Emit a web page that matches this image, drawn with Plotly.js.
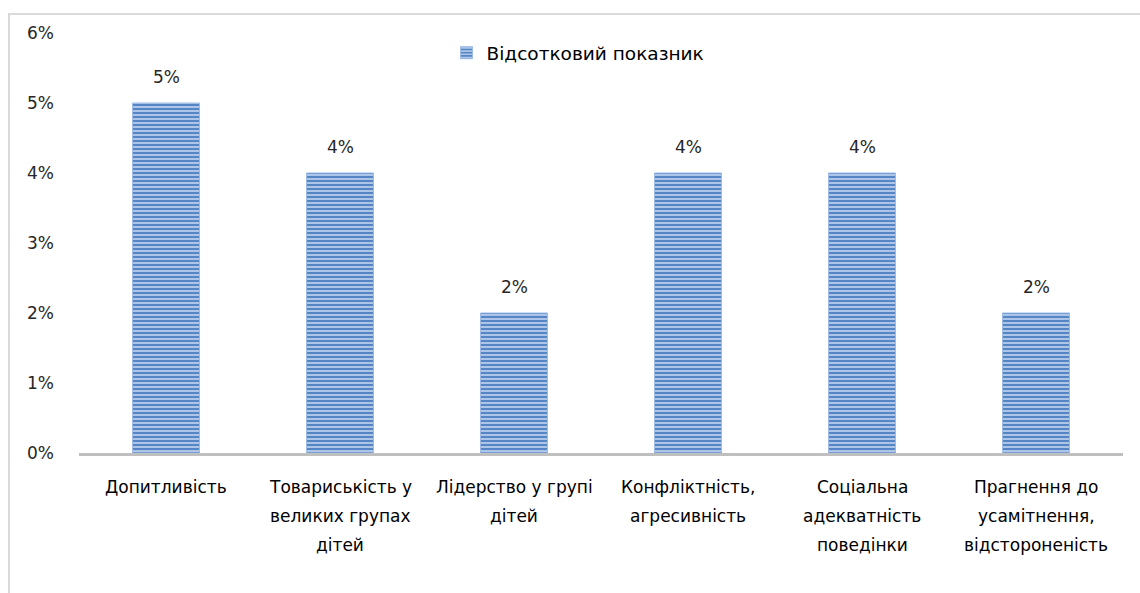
<!DOCTYPE html>
<html>
<head>
<meta charset="utf-8">
<script src="https://cdn.plot.ly/plotly-3.0.1.min.js"></script>
<style>
  html, body { margin: 0; padding: 0; background: #fff; }
  #wrap { position: relative; width: 1140px; height: 593px; }
  #chart { width: 1140px; height: 593px; }
  #frame { position: absolute; left: 8px; top: 13px; width: 1140px; height: 600px;
           border: 2px solid #d9d9d9; box-sizing: border-box; pointer-events: none; }
</style>
</head>
<body>
<div id="wrap">
  <div id="chart"></div>
  <div id="frame"></div>
</div>
<script>
const categories = [
  "Допитливість",
  "Товариськість у великих групах дітей",
  "Лідерство у групі дітей",
  "Конфліктність, агресивність",
  "Соціальна адекватність поведінки",
  "Прагнення до усамітнення, відстороненість"
];
const categoryLines = [
  ["Допитливість"],
  ["Товариськість у", "великих групах", "дітей"],
  ["Лідерство у групі", "дітей"],
  ["Конфліктність,", "агресивність"],
  ["Соціальна", "адекватність", "поведінки"],
  ["Прагнення до", "усамітнення,", "відстороненість"]
];
const values = [0.05, 0.04, 0.02, 0.04, 0.04, 0.02];
const valueLabels = ["5%", "4%", "2%", "4%", "4%", "2%"];
const seriesName = "Відсотковий показник";
const yTickVals = [0, 0.01, 0.02, 0.03, 0.04, 0.05, 0.06];
const yTickText = ["0%", "1%", "2%", "3%", "4%", "5%", "6%"];

const FONT = "DejaVu Sans, Liberation Sans, sans-serif";

const trace = {
  type: "bar",
  x: categories,
  y: values,
  name: seriesName,
  width: 0.385,
  marker: {
    color: "#5585C3",
    line: { color: "#9CBBE6", width: 1 },
    pattern: { shape: "-", fgcolor: "#C2D6F2", bgcolor: "#5585C3", size: 4, solidity: 0.4 }
  },
  hoverinfo: "skip"
};

const annotations = categories.map((c, i) => ({
  x: c, y: values[i], xref: "x", yref: "y",
  text: valueLabels[i], showarrow: false,
  yanchor: "bottom", yshift: 14,
  font: { family: FONT, size: 17, color: "#262626" }
}));

categoryLines.forEach((lines, i) => {
  lines.forEach((ln, j) => {
    annotations.push({
      x: categories[i], y: 0, xref: "x", yref: "y",
      text: ln, showarrow: false,
      yanchor: "middle", yshift: -(34 + 29 * j),
      font: { family: FONT, size: 17, color: "#000000" }
    });
  });
});

const layout = {
  width: 1140, height: 593,
  margin: { l: 79, r: 17, t: 33, b: 140 },
  paper_bgcolor: "#ffffff",
  plot_bgcolor: "#ffffff",
  showlegend: true,
  legend: {
    orientation: "h", x: 0.478, xanchor: "center", y: 0.952, yanchor: "middle",
    font: { family: FONT, size: 18.5, color: "#000000" },
    bgcolor: "rgba(0,0,0,0)", itemwidth: 30
  },
  xaxis: {
    type: "category",
    showline: true, linecolor: "#BFBFBF", linewidth: 3,
    ticks: "", showgrid: false, zeroline: false,
    showticklabels: false, automargin: false
  },
  yaxis: {
    range: [0, 0.06], tickvals: yTickVals, ticktext: yTickText,
    showline: false, showgrid: false, zeroline: false, ticks: "",
    tickfont: { family: FONT, size: 17, color: "#262626" },
    ticklabelstandoff: 24, automargin: false
  },
  annotations: annotations
};

Plotly.newPlot("chart", [trace], layout, { staticPlot: true, displayModeBar: false });
</script>
</body>
</html>
